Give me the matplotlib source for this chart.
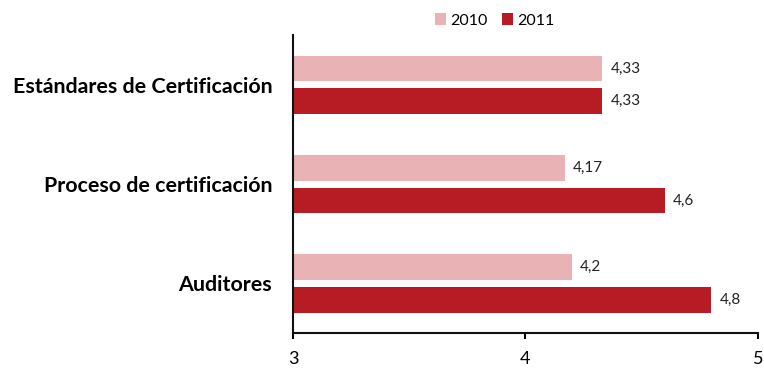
import matplotlib
matplotlib.use("Agg")
import matplotlib.pyplot as plt
import numpy as np

# Valoración media por aspecto, 2010 vs 2011
categorias = ["Estándares de Certificación", "Proceso de certificación", "Auditores"]
valores_2010 = [4.33, 4.17, 4.2]
valores_2011 = [4.33, 4.6, 4.8]
anios = ["2010", "2011"]
colores = ["#E9B3B6", "#B71C24"]

plt.rcParams["font.family"] = ["Lato", "DejaVu Sans"]

fig = plt.figure(figsize=(7.64, 3.72), dpi=100)
ax = fig.add_axes([0.3835, 0.105, 0.6085, 0.80])

y = np.arange(len(categorias))
alto = 0.26
desp = 0.165

for serie, vals, color, d in zip(anios, [valores_2010, valores_2011], colores, [-desp, desp]):
    ax.barh(y + d, np.array(vals) - 3, left=3, height=alto, color=color, label=serie)
    for yi, v in zip(y + d, vals):
        txt = f"{v:g}".replace(".", ",")
        ax.text(v + 0.035, yi, txt, va="center", ha="left", fontsize=11, color="#222222")

ax.set_xlim(3, 5)
ax.set_ylim(2.5, -0.5)
ax.set_xticks([3, 4, 5])
ax.set_xticklabels(["3", "4", "5"], fontsize=13)
ax.set_yticks(y)
ax.set_yticklabels(categorias, fontsize=15.4, fontweight="bold")
ax.tick_params(axis="y", length=0, pad=15)
ax.tick_params(axis="x", length=4, width=1.5, direction="out", pad=9)

for lado in ["top", "right"]:
    ax.spines[lado].set_visible(False)
for lado in ["left", "bottom"]:
    ax.spines[lado].set_linewidth(1.5)
    ax.spines[lado].set_color("#111111")

fig.legend(loc="center", bbox_to_anchor=(0.647, 0.945), ncol=2, frameon=False,
           fontsize=11.5, handlelength=0.7, handleheight=0.7, handletextpad=0.25,
           columnspacing=0.9)

fig.savefig("out.png", dpi=100)
